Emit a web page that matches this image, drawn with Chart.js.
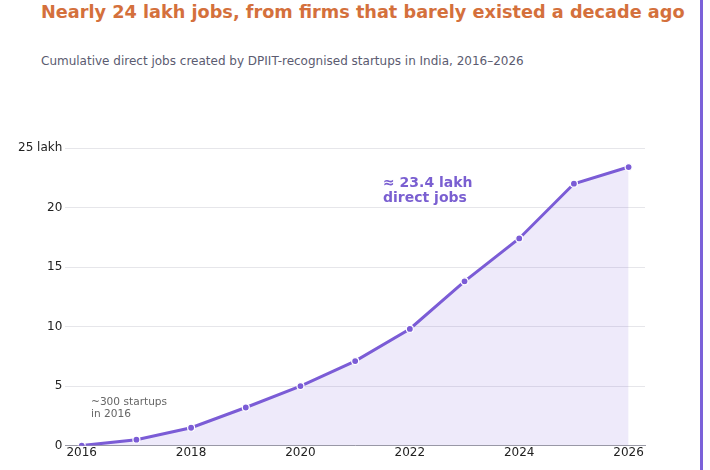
<!DOCTYPE html>
<html>
<head>
<meta charset="utf-8">
<script src="https://cdn.jsdelivr.net/npm/chart.js@4.4.1/dist/chart.umd.min.js"></script>
<style>
  html, body { margin: 0; padding: 0; background: #fff; }
  body { width: 710px; height: 470px; overflow: hidden; font-family: "DejaVu Sans", sans-serif; }
  #wrap { position: relative; width: 700px; height: 470px; border-right: 3px solid #7b61d9; }
  #title { position: absolute; left: 41px; top: 2px; margin: 0; font-size: 17.7px; line-height: 20px; font-weight: bold; color: #d4703c; white-space: nowrap; }
  #subtitle { position: absolute; left: 41px; top: 54px; margin: 0; font-size: 12px; line-height: 14px; color: #5b5b70; white-space: nowrap; }
  #chartBox { position: absolute; left: 0; top: 0; width: 700px; height: 470px; }
  .note { position: absolute; white-space: nowrap; }
  #noteBig { left: 383px; top: 175px; font-size: 14px; font-weight: bold; color: #7a5fd1; line-height: 15px; }
  #noteSmall { left: 91px; top: 395px; font-size: 10.6px; color: #666; line-height: 12px; }
</style>
</head>
<body>
<div id="wrap">
  <h1 id="title">Nearly 24 lakh jobs, from firms that barely existed a decade ago</h1>
  <p id="subtitle">Cumulative direct jobs created by DPIIT-recognised startups in India, 2016–2026</p>
  <div id="chartBox"><canvas id="jobsChart"></canvas></div>
  <div class="note" id="noteBig">≈ 23.4 lakh<br>direct jobs</div>
  <div class="note" id="noteSmall">~300 startups<br>in 2016</div>
</div>
<script>
// Years and cumulative direct jobs (lakh)
const years = [2016, 2017, 2018, 2019, 2020, 2021, 2022, 2023, 2024, 2025, 2026];
const jobsLakh = [0, 0.5, 1.5, 3.2, 5.0, 7.1, 9.8, 13.8, 17.4, 22.0, 23.4];
const xTicks = [2016, 2018, 2020, 2022, 2024, 2026];
const yTicks = [0, 5, 10, 15, 20, 25];

const purple = "#7b5cd6";
const tickFont = { family: "DejaVu Sans", size: 12 };

const ctx = document.getElementById("jobsChart").getContext("2d");
new Chart(ctx, {
  type: "line",
  data: {
    datasets: [{
      label: "Cumulative direct jobs",
      data: years.map((y, i) => ({ x: y, y: jobsLakh[i] })),
      borderColor: purple,
      borderWidth: 3,
      backgroundColor: "rgba(123, 92, 214, 0.13)",
      fill: "origin",
      tension: 0,
      pointRadius: 3.5,
      pointBackgroundColor: purple,
      pointBorderColor: "#ffffff",
      pointBorderWidth: 1.2
    }]
  },
  options: {
    responsive: true,
    maintainAspectRatio: false,
    animation: false,
    layout: { padding: { top: 148, left: 15, right: 55, bottom: 10 } },
    plugins: {
      legend: { display: false },
      tooltip: { enabled: false }
    },
    scales: {
      x: {
        type: "linear",
        min: 2015.7,
        max: 2026.3,
        afterBuildTicks: scale => { scale.ticks = xTicks.map(v => ({ value: v })); },
        grid: { display: false, drawTicks: false },
        border: { display: true, color: "#9a9aa6", width: 1 },
        ticks: {
          color: "#222",
          font: tickFont,
          padding: 0,
          maxRotation: 0,
          callback: v => String(v)
        }
      },
      y: {
        min: 0,
        max: 25,
        afterBuildTicks: scale => { scale.ticks = yTicks.map(v => ({ value: v })); },
        grid: { color: "#e6e6ea", drawTicks: false },
        border: { display: false },
        ticks: {
          color: "#222",
          font: tickFont,
          padding: 3,
          callback: v => v === 25 ? "25 lakh" : String(v)
        }
      }
    }
  }
});
</script>
</body>
</html>
